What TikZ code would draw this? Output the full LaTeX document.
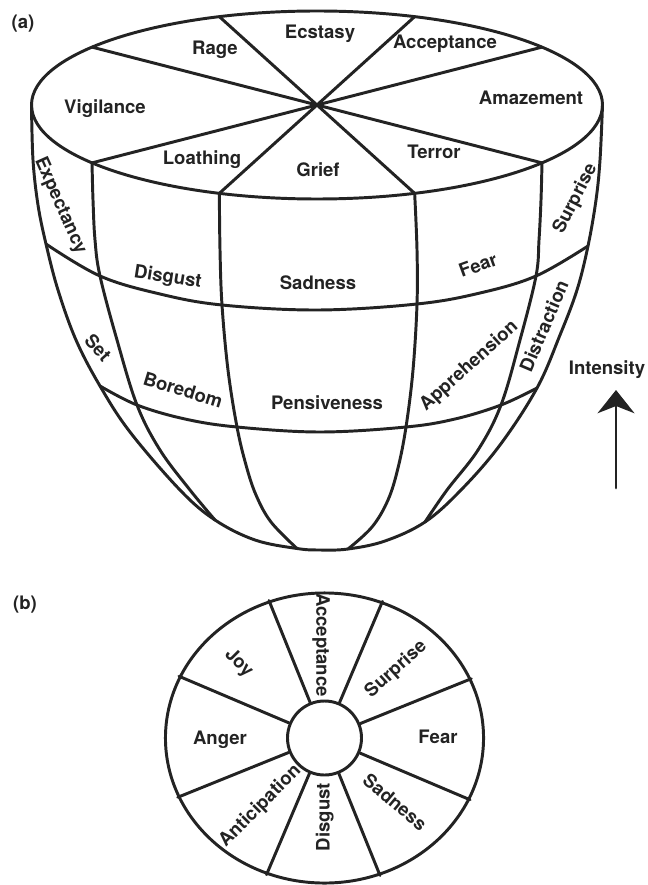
\documentclass[tikz,border=0pt]{standalone}
\usepackage{fontspec}
\setmainfont{TeX Gyre Heros}
\usepackage{xcolor}
\definecolor{ink}{HTML}{232323}
\usepackage{tikz}
\usetikzlibrary{calc,shapes.geometric,arrows.meta}

\tikzset{
  rim/.style={line width=2.1pt, draw=ink, line cap=round, line join=round},
  lbl/.style={font=\fontsize{13.2}{15}\selectfont\bfseries, text=ink,
    inner sep=0pt, text height=9.5pt, text depth=0pt},
}

\begin{document}
\begin{tikzpicture}[x=0.025cm, y=-0.025cm, >=stealth]
  \useasboundingbox (0,0) rectangle (648,885);
  % (a) top rim of the solid
  \coordinate (O) at (317,105);
  \foreach \ang in {0,38,70,110,142,180,218,250,290,322}
    \coordinate (rim\ang) at ({317+285.5*cos(\ang)},{105-94*sin(\ang)});
  \draw[rim] (O) ellipse [x radius=285.5, y radius=94];
  \foreach \ang/\opp in {38/218,70/250,110/290,142/322}
    \draw[rim] (rim\ang) -- (rim\opp);
  % crossings of rings and meridians
  \coordinate (r1w) at (46,244);   \coordinate (r2w) at (100,386);
  \coordinate (r1a) at (100,276);  \coordinate (r2a) at (137,405);
  \coordinate (r1b) at (222,305);  \coordinate (r2b) at (237,427);
  \coordinate (r1c) at (417,304);  \coordinate (r2c) at (406,427);
  \coordinate (r1d) at (536,276);  \coordinate (r2d) at (501,405);
  \coordinate (r1e) at (588,246);  \coordinate (r2e) at (537,388);
  \coordinate (jw) at (215,520);   \coordinate (je) at (425,522);
  \coordinate (bl) at (297,548.5); \coordinate (br) at (348,549);
  \coordinate (bot) at (320,550);
  % outline of the bowl
  \draw[rim] plot[smooth, tension=0.6] coordinates {(rim180) (33,160) (38,205)
    (r1w) (58,290) (76,340) (r2w) (130,432) (180,490) (jw) (255,540) (bl) (bot)
    (br) (385,541) (je) (461,490) (500,445) (r2e) (560,335) (577,290) (r1e)
    (596,200) (600,160) (rim0)};
  % meridians
  \draw[rim] plot[smooth, tension=0.6] coordinates {(rim218) (93,200) (95,240)
    (r1a) (117,340) (r2a) (160,450) (190,490) (jw)};
  \draw[rim] plot[smooth, tension=0.6] coordinates {(rim250) (220,250) (r1b)
    (228,370) (r2b) (246,465) (256,495) (271,522) (bl)};
  \draw[rim] plot[smooth, tension=0.6] coordinates {(rim290) (417,250) (r1c)
    (413,370) (r2c) (398,468) (388,500) (372,527) (br)};
  \draw[rim] plot[smooth, tension=0.6] coordinates {(rim322) (541,200) (539,240)
    (r1d) (520,340) (r2d) (478,450) (447,490) (je)};
  % rings
  \draw[rim] plot[smooth, tension=0.6] coordinates {(r1w) (r1a) (160,294) (r1b)
    (318,310) (r1c) (480,293) (r1d) (r1e)};
  \draw[rim] plot[smooth, tension=0.6] coordinates {(r2w) (r2a) (185,419) (r2b)
    (320,432) (r2c) (455,419) (r2d) (r2e)};
  % labels on the rim
  \node[lbl] (parta) at (23,22) {(a)};
  \node[lbl] (ecstasy) at (320,32) {Ecstasy};
  \node[lbl] (rage) at (215,48) {Rage};
  \node[lbl] (acceptance) at (445,42) {Acceptance};
  \node[lbl] (vigilance) at (105,107) {Vigilance};
  \node[lbl] (amazement) at (531,98) {Amazement};
  \node[lbl] (loathing) at (202,158) {Loathing};
  \node[lbl] (grief) at (318,170) {Grief};
  \node[lbl] (terror) at (434,152) {Terror};
  % labels on the sides
  \node[lbl, rotate=-66] (expectancy) at (62,205) {Expectancy};
  \node[lbl, rotate=63] (surprise) at (574,198) {Surprise};
  \node[lbl, rotate=-9] (disgust) at (168,276) {Disgust};
  \node[lbl] (sadness) at (318,283) {Sadness};
  \node[lbl, rotate=20] (fear) at (478,265) {Fear};
  \node[lbl, rotate=-48] (set) at (98,348) {Set};
  \node[lbl, rotate=-17] (boredom) at (183,390) {Boredom};
  \node[lbl] (pensiveness) at (327,403) {Pensiveness};
  \node[lbl, rotate=42] (apprehension) at (468,365) {Apprehension};
  \node[lbl, rotate=67] (distraction) at (544,326) {Distraction};
  % intensity arrow
  \node[lbl] (intensity) at (607,368) {Intensity};
  \coordinate (arrowfoot) at (616,488);
  \coordinate (arrowtip) at (616,390);
  \draw[rim, -{Stealth[length=5.8mm, width=9.2mm, inset=1.8mm]}] (arrowfoot) -- (arrowtip);
  % (b) the wheel
  \node[lbl] (partb) at (25,603) {(b)};
  \node[rim, ellipse, draw, inner sep=0pt, minimum width=7.95cm, minimum height=7.25cm]
    (wheel) at (324.5,738) {};
  \node[rim, circle, draw, inner sep=0pt, minimum size=1.85cm] (hub) at (324.5,738) {};
  \foreach \ang in {22.5,67.5,...,337.5}
    \draw[rim] (hub.\ang) -- (wheel.\ang);
  \node[lbl, rotate=-90] (wAcc) at (323,645) {Acceptance};
  \node[lbl, rotate=42] (wSur) at (395,668) {Surprise};
  \node[lbl, rotate=-45] (wJoy) at (240,662) {Joy};
  \node[lbl] (wAng) at (220,738) {Anger};
  \node[lbl] (wFea) at (438,737) {Fear};
  \node[lbl, rotate=-40] (wSad) at (395,802) {Sadness};
  \node[lbl, rotate=90] (wDis) at (323,817) {Disgust};
  \node[lbl, rotate=45] (wAnt) at (259,805) {Anticipation};
\end{tikzpicture}
\end{document}
